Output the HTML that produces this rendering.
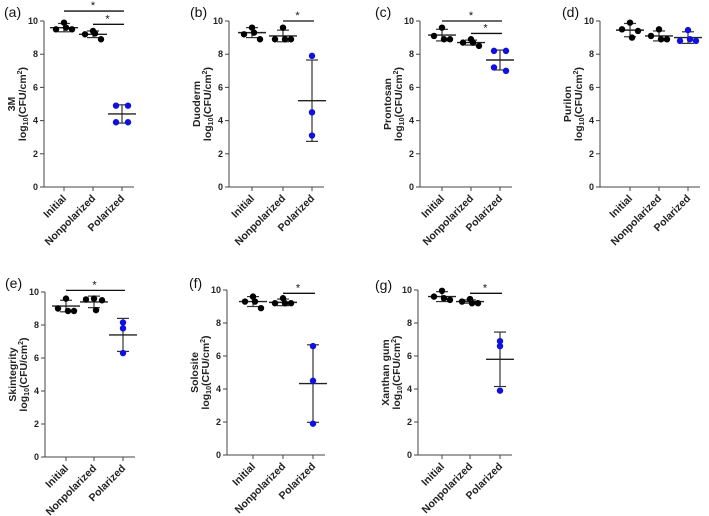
<!DOCTYPE html>
<html><head><meta charset="utf-8"><style>
body{margin:0;background:#fff}
svg{display:block;font-family:"Liberation Sans",Arial,sans-serif}
</style></head><body>
<svg id="chart" width="709" height="516" viewBox="0 0 709 516"></svg>
<script>
const categories = ["Initial","Nonpolarized","Polarized"];
const panelLetters = ["(a)","(b)","(c)","(d)","(e)","(f)","(g)"];
const dressings = ["3M","Duoderm","Prontosan","Purilon","Skintegrity","Solosite","Xanthan gum"];
const yTicks = [0,2,4,6,8,10];
const initialValues = [[9.9,9.5,9.5,9.6],[9.6,9.2,8.9,9.3],[9.6,9.1,8.9,8.9],[9.9,9.5,9.4,9.0],[9.6,9.0,8.85,8.85],[9.6,9.3,8.9,9.3],[9.95,9.6,9.4,9.5]];
const nonpolarizedValues = [[9.4,9.2,8.9,9.25],[9.6,8.9,8.9,8.9],[8.9,8.7,8.5,8.7],[9.5,9.1,8.9,8.9],[9.6,9.55,9.5,8.9],[9.5,9.2,9.2,9.2],[9.45,9.3,9.2,9.2]];
const polarizedValues = [[4.9,4.9,3.9,3.9],[7.9,4.5,3.1],[8.2,8.2,7.2,7.0],[9.45,8.8,8.8,8.9],[8.15,7.8,6.3],[6.6,4.5,1.9],[6.9,6.6,3.9]];
const meanValues = [[9.6,9.2,4.4],[9.3,9.1,5.2],[9.15,8.7,7.65],[9.45,9.1,9.0],[9.15,9.4,7.4],[9.3,9.25,4.33],[9.6,9.3,5.8]];
const sdValues = [[0.25,0.2,0.55],[0.3,0.35,2.45],[0.35,0.15,0.6],[0.4,0.3,0.35],[0.35,0.35,1.0],[0.3,0.2,2.35],[0.3,0.1,1.65]];
// significance bars: [fromCategory, toCategory, yValue]
const sigBars = [[[0,2,10.6],[1,2,9.8]],[[1,2,10.0]],[[0,2,10.0],[1,2,9.25]],[],[[0,2,10.1]],[[1,2,9.8]],[[1,2,9.8]]];

const layout = [
 {ax:44,cx:[64,93,122],y0:187,y10:21},
 {ax:229,cx:[252,283,312],y0:187,y10:21},
 {ax:420,cx:[442,471,500],y0:187,y10:21},
 {ax:600,cx:[630,659,688],y0:187,y10:21},
 {ax:45,cx:[66,94,123],y0:457,y10:292},
 {ax:227,cx:[253,283,313],y0:455,y10:290},
 {ax:418,cx:[442,470,500],y0:455,y10:290}
];
const letterPos=[[4,17],[190,17],[375,17],[562,17],[5,288],[189,288],[375,290]];
const NS="http://www.w3.org/2000/svg";
const svg=document.getElementById('chart');
function mk(tag,attrs,parent){const e=document.createElementNS(NS,tag);for(const k in attrs)e.setAttribute(k,attrs[k]);(parent||svg).appendChild(e);return e;}

layout.forEach((L,p)=>{
  const g=mk('g',{});
  
  
  const y=v=>L.y0-(L.y0-L.y10)*v/10;
  const xEnd=L.cx[2]+12;
  const lt=mk('text',{x:letterPos[p][0],y:letterPos[p][1],'font-size':14,fill:'#111'},g);lt.textContent=panelLetters[p];
  
  const ya=mk('line',{x1:L.ax,y1:L.y0,x2:L.ax,y2:L.y10,stroke:'#444','stroke-width':1},g);
  
  const xa=mk('line',{x1:L.ax,y1:L.y0,x2:xEnd,y2:L.y0,stroke:'#444','stroke-width':1},g);
  
  yTicks.forEach(t=>{
    mk('line',{x1:L.ax-4,y1:y(t),x2:L.ax,y2:y(t),stroke:'#444'},g);
    const tx=mk('text',{x:L.ax-6,y:y(t)+3,'font-size':9,'font-weight':'bold','text-anchor':'end',fill:'#222'},g);tx.textContent=t;
    
  });
  const cy=(L.y0+L.y10)/2;
  const yl=mk('text',{transform:`translate(${L.ax-29},${cy}) rotate(-90)`,'font-size':10.5,'font-weight':'bold','text-anchor':'middle',fill:'#222'},g);
  yl.textContent=dressings[p];
  const yl2=mk('text',{transform:`translate(${L.ax-18},${cy}) rotate(-90)`,'font-size':10.5,'font-weight':'bold','text-anchor':'middle',fill:'#222'},g);
  yl2.innerHTML='log<tspan font-size="7" dy="2">10</tspan><tspan dy="-2">(CFU/cm</tspan><tspan font-size="7" dy="-4">2</tspan><tspan dy="4">)</tspan>';
  
  categories.forEach((c,i)=>{
    const x=L.cx[i];
    mk('line',{x1:x,y1:L.y0,x2:x,y2:L.y0+4,stroke:'#444'},g);
    const t=mk('text',{transform:`translate(${x+3},${L.y0+12}) rotate(-45)`,'font-size':10.5,'font-weight':'bold','text-anchor':'end',fill:'#222'},g);
    t.textContent=c;
    const vals=[initialValues,nonpolarizedValues,polarizedValues][i][p];
    const col=i==2?'#1010e0':'#000';
    const m=meanValues[p][i],s=sdValues[p][i];
    const sdl=mk('line',{x1:x,y1:y(m-s),x2:x,y2:y(m+s),stroke:'#333','stroke-width':1.2},g);
    
    mk('line',{x1:x-6,y1:y(m-s),x2:x+6,y2:y(m-s),stroke:'#333','stroke-width':1.2},g);
    mk('line',{x1:x-6,y1:y(m+s),x2:x+6,y2:y(m+s),stroke:'#333','stroke-width':1.2},g);
    const ml=mk('line',{x1:x-14,y1:y(m),x2:x+14,y2:y(m),stroke:'#222','stroke-width':1.4},g);
    
    let jit;
    if(vals.length==3) jit=[0,0,0];
    else if(i==2 && (p==0||p==2)) jit=[-6,6,-6,6];
    else jit=[0,-8,8,2];
    vals.forEach((v,k)=>{
      const d=mk('circle',{cx:x+jit[k],cy:y(v),r:3.2,fill:col},g);
      
    });
  });
  sigBars[p].forEach(b=>{
    const l=mk('line',{x1:L.cx[b[0]],y1:y(b[2]),x2:L.cx[b[1]]+2,y2:y(b[2]),stroke:'#111','stroke-width':1.3},g);
    
    const st=mk('text',{x:(L.cx[b[0]]+L.cx[b[1]])/2,y:y(b[2])-2,'font-size':11,'text-anchor':'middle',fill:'#111'},g);
    st.textContent='*';
  });
});
</script>
</body></html>
